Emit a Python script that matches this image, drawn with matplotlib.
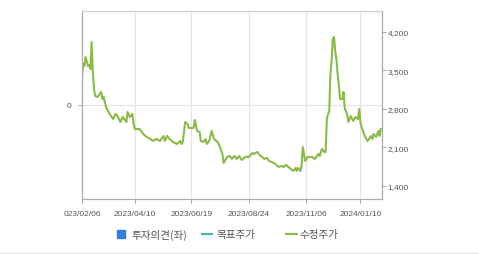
import matplotlib
matplotlib.use('Agg')
import matplotlib.pyplot as plt
from matplotlib.lines import Line2D
from matplotlib.patches import Rectangle

plt.rcParams['font.family'] = ['Liberation Sans', 'Noto Sans CJK KR', 'DejaVu Sans']

# Trading-day number (0 = 2023/02/06) and adjusted price (수정주가)
day = [0, 1, 2, 3, 5, 6, 7, 8, 9, 10, 11, 13, 16, 17, 18, 20, 23, 26, 28, 30,
       32, 34, 37, 38, 40, 42, 43, 44, 48, 51, 54, 57, 59, 62, 65, 68, 69, 71, 73, 76,
       79, 82, 83, 84, 86, 88, 89, 93, 94, 96, 98, 99, 101, 103, 104, 106, 108, 110, 113, 115,
       117, 118, 121, 123, 125, 127, 129, 131, 133, 136, 139, 142, 143, 146, 148, 150, 152, 154, 156, 158,
       160, 163, 164, 166, 168, 170, 172, 174, 176, 178, 179, 180, 182, 183, 184, 186, 188, 192, 194, 197,
       198, 200, 202, 203, 204, 205, 206, 207, 208, 209, 210, 211, 212, 213, 214, 215, 217, 218, 219, 221,
       222, 224, 226, 228, 230, 231, 232, 233, 235, 237, 238, 241, 242, 243, 245, 247, 248, 249]
price = [3376, 3613, 3576, 3740, 3576, 3595, 3522, 4013, 3486, 3158, 3031, 3013, 3104, 2976, 3013, 2831, 2704, 2613, 2704, 2649,
         2558, 2649, 2558, 2740, 2649, 2704, 2522, 2431, 2431, 2340, 2285, 2249, 2213, 2249, 2213, 2304, 2213, 2304, 2249, 2195,
         2158, 2213, 2158, 2195, 2558, 2522, 2449, 2449, 2595, 2395, 2376, 2213, 2195, 2249, 2158, 2213, 2395, 2249, 2195, 2104,
         1977, 1813, 1922, 1940, 1886, 1940, 1886, 1940, 1868, 1922, 1922, 1995, 1977, 2013, 1958, 1922, 1886, 1904, 1850, 1831,
         1813, 1759, 1740, 1759, 1740, 1777, 1740, 1704, 1668, 1722, 1668, 1722, 1668, 1759, 2104, 1850, 1922, 1922, 1886, 1977,
         1940, 2068, 2013, 2013, 2613, 2704, 2740, 3431, 3668, 4067, 4104, 3849, 3704, 3431, 3249, 2976, 2976, 3104, 2795, 2704,
         2558, 2667, 2576, 2649, 2613, 2795, 2558, 2467, 2340, 2249, 2213, 2304, 2249, 2340, 2285, 2395, 2304, 2431]

tick_days = [0, 44, 91, 139, 187, 232]
tick_labels = ['023/02/06', '2023/04/10', '2023/06/19', '2023/08/24', '2023/11/06', '2024/01/10']
right_ticks = [1400, 2100, 2800, 3500, 4200]

W, H = 479, 255
fig = plt.figure(figsize=(W / 100, H / 100), dpi=100)
ax = fig.add_axes([82 / W, 1 - 200 / H, 300 / W, 188 / H])
ax2 = ax.twinx()

tc = '#555555'
ax.set_xlim(0, 250)
ax.set_ylim(-1, 1)
ax.set_yticks([0])
ax.set_yticklabels(['0'])
ax.set_xticks(tick_days)
ax.set_xticklabels(tick_labels)
ax.grid(True, color='#e4e4e4', linewidth=0.8)
ax.tick_params(colors='#999999', labelcolor=tc, labelsize=6, length=3, width=0.6, pad=5)

ax2.plot(day, price, color='#8cba48', linewidth=1.5, solid_joinstyle='round')
ax2.set_ylim(1158, 4576)
ax2.set_yticks(right_ticks)
ax2.set_yticklabels([f'{v:,}' for v in right_ticks])
ax2.tick_params(colors='#999999', labelcolor=tc, labelsize=6, length=3, width=0.6, pad=1)

for a in (ax, ax2):
    for s in a.spines.values():
        s.set_color('#aaaaaa')
        s.set_linewidth(0.8)
    a.spines['top'].set_color('#d0d0d0')

# legend
fig.add_artist(Rectangle((117 / W, 1 - 239 / H), 8 / W, 8 / H, color='#2f7fe0',
                         transform=fig.transFigure))
fig.text(132 / W, 1 - 235 / H, '투자의견(좌)', fontsize=7.6, color=tc, va='center',
         family=['Noto Sans CJK KR', 'DejaVu Sans'])
fig.add_artist(Line2D([202 / W, 212 / W], [1 - 235 / H] * 2, color='#3ab5cc', linewidth=1.5))
fig.text(216 / W, 1 - 235 / H, '목표주가', fontsize=7.6, color=tc, va='center',
         family=['Noto Sans CJK KR', 'DejaVu Sans'])
fig.add_artist(Line2D([286 / W, 297 / W], [1 - 235 / H] * 2, color='#8cba48', linewidth=1.5))
fig.text(299 / W, 1 - 235 / H, '수정주가', fontsize=7.6, color=tc, va='center',
         family=['Noto Sans CJK KR', 'DejaVu Sans'])
fig.add_artist(Line2D([0, 1], [1 - 253.5 / H] * 2, color='#e6e6e6', linewidth=1))

fig.savefig('out.png', dpi=100)
